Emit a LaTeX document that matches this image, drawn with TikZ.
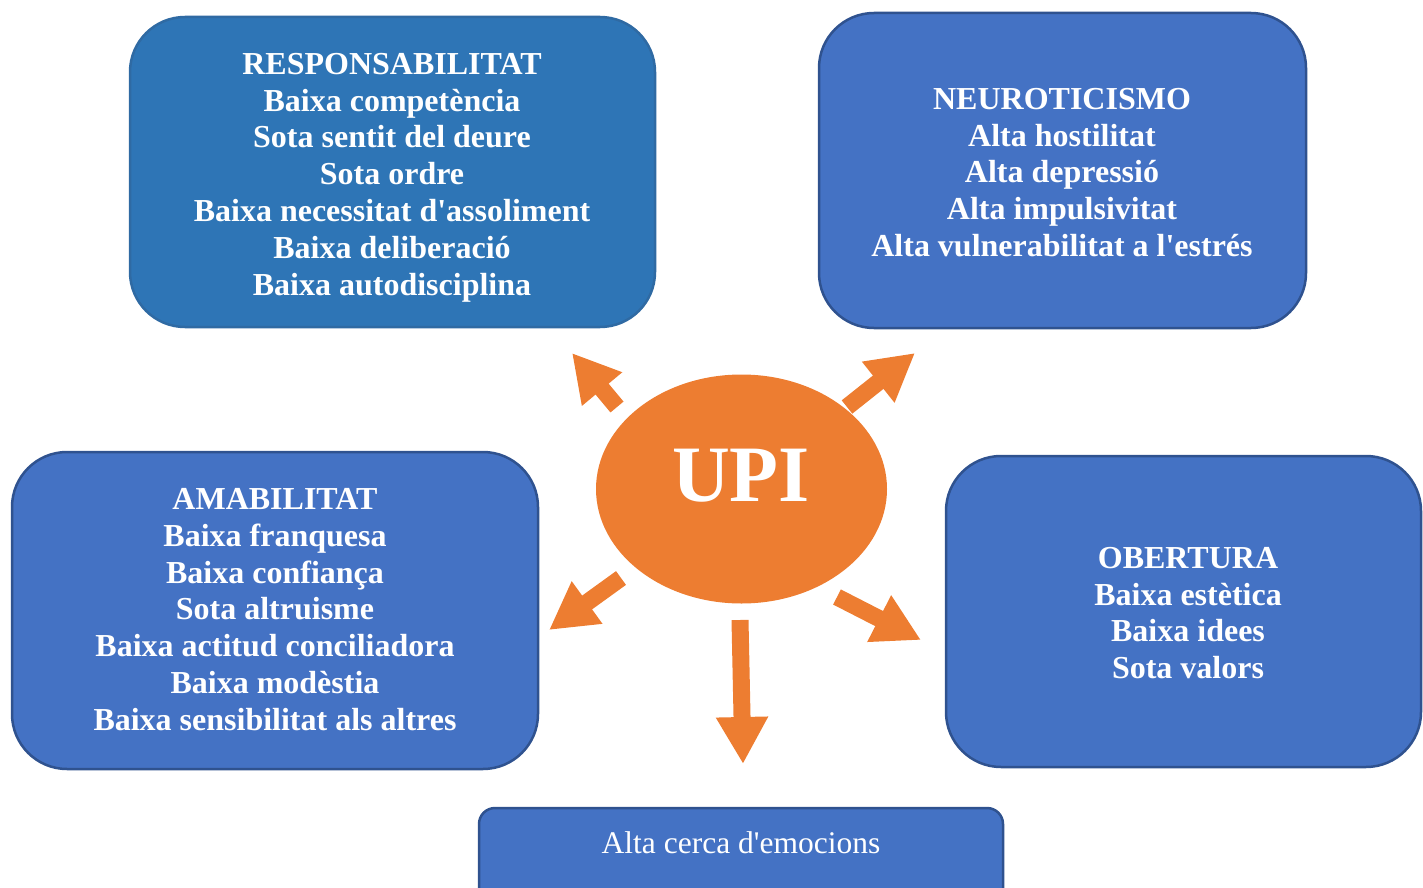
\documentclass[tikz,border=0pt]{standalone}
\usepackage{fontspec}
\setmainfont{Liberation Serif}[Ligatures=TeXOff]
\usetikzlibrary{arrows.meta,shapes.geometric}
\definecolor{bluedark}{HTML}{2E75B6}
\definecolor{bluemain}{HTML}{4472C4}
\definecolor{blueborder}{HTML}{2F528F}
\definecolor{borderdark}{HTML}{2F6AA3}
\definecolor{upiorange}{HTML}{ED7D31}
\tikzset{
  box/.style={draw=blueborder, fill=bluemain, line width=2.5pt, rounded corners=55pt},
  txt/.style={text=white, align=center, font=\fontsize{32}{36.8}\selectfont\bfseries, inner sep=0pt},
  blockarrow/.style={draw=upiorange, line width=17pt, -{Triangle[length=47pt,width=49pt,fill=upiorange]}},
}
\begin{document}
\begin{tikzpicture}[x=1pt,y=-1pt]
\useasboundingbox (0,0) rectangle (1423,888);
% boxes
\draw[box, draw=borderdark, fill=bluedark] (130,17) rectangle (655,327);
\node[txt] (resp) at (392,177.5) {RESPONSABILITAT\\Baixa competència\\Sota sentit del deure\\Sota ordre\\Baixa necessitat d'assoliment\\Baixa deliberació\\Baixa autodisciplina};
\draw[box] (819,13) rectangle (1306,328);
\node[txt] (neuro) at (1062,172.5) {NEUROTICISMO\\Alta hostilitat\\Alta depressió\\Alta impulsivitat\\Alta vulnerabilitat a l'estrés};
\draw[box] (12,452) rectangle (538,769);
\node[txt] (amab) at (275,609.5) {AMABILITAT\\Baixa franquesa\\Baixa confiança\\Sota altruisme\\Baixa actitud conciliadora\\Baixa modèstia\\Baixa sensibilitat als altres};
\draw[box] (946,456) rectangle (1421,767);
\node[txt] (obert) at (1188,613) {OBERTURA\\Baixa estètica\\Baixa idees\\Sota valors};
\draw[box, rounded corners=16pt] (479,808) rectangle (1003,910);
\node[text=white, font=\fontsize{31.5}{34}\selectfont, inner sep=0pt] (emoc) at (741,843) {Alta cerca d'emocions};
% center
\node[ellipse, fill=upiorange, minimum width=291pt, minimum height=229pt, inner sep=0pt] (upi) at (741.5,489) {};
\node[text=white, font=\fontsize{80}{84}\selectfont\bfseries, inner sep=0pt] (upitxt) at (741,476) {UPI};
% arrows
\coordinate (a1s) at (617,407); \coordinate (a1e) at (572,353);
\coordinate (a2s) at (847,407); \coordinate (a2e) at (915,353);
\coordinate (a3s) at (621,578); \coordinate (a3e) at (549,630);
\coordinate (a4s) at (837,597); \coordinate (a4e) at (921,640);
\coordinate (a5s) at (740,620); \coordinate (a5e) at (743,764);
\draw[blockarrow] (a1s) -- (a1e);
\draw[blockarrow] (a2s) -- (a2e);
\draw[blockarrow] (a3s) -- (a3e);
\draw[blockarrow] (a4s) -- (a4e);
\draw[blockarrow] (a5s) -- (a5e);
\end{tikzpicture}
\end{document}
